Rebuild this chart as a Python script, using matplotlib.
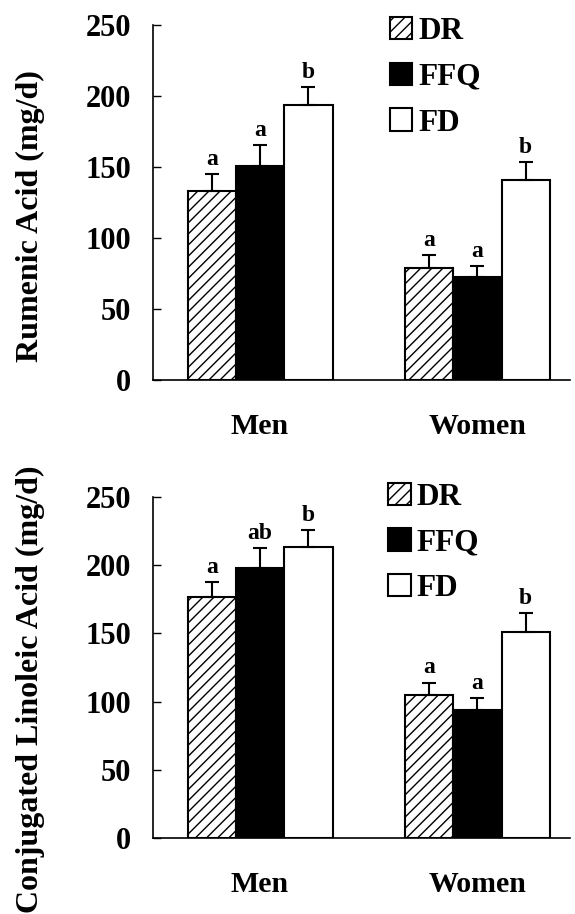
import matplotlib
matplotlib.use("Agg")
import matplotlib.pyplot as plt
import numpy as np

plt.rcParams['font.family'] = ['Liberation Serif', 'DejaVu Serif']
plt.rcParams['font.weight'] = 'bold'
plt.rcParams['hatch.linewidth'] = 1.0

groups = ["Men", "Women"]
methods = ["DR", "FFQ", "FD"]

# Rumenic acid (mg/d): means and upper error (SE)
rum_mean = {"DR": [133, 79], "FFQ": [151, 72.5], "FD": [194, 141]}
rum_err = {"DR": [12, 9], "FFQ": [14.5, 8], "FD": [12, 12.5]}
rum_letters = {"DR": ["a", "a"], "FFQ": ["a", "a"], "FD": ["b", "b"]}

# Conjugated linoleic acid (mg/d)
cla_mean = {"DR": [177, 105], "FFQ": [198, 94], "FD": [213, 151]}
cla_err = {"DR": [10.5, 9], "FFQ": [14.5, 8.5], "FD": [13, 14]}
cla_letters = {"DR": ["a", "a"], "FFQ": ["ab", "a"], "FD": ["b", "b"]}

yticks = [0, 50, 100, 150, 200, 250]

styles = {
    "DR": dict(facecolor="white", hatch="///"),
    "FFQ": dict(facecolor="black"),
    "FD": dict(facecolor="white"),
}

fig = plt.figure(figsize=(5.75, 9.14), dpi=100)
W, H = 575, 914

def axes_px(left, right, top, bottom):
    return fig.add_axes([left / W, 1 - bottom / H, (right - left) / W, (bottom - top) / H])

ax1 = axes_px(153, 570, 25, 380)
ax2 = axes_px(153, 570, 497, 838)

centers = np.array([0.0, 4.5])
offsets = {"DR": -1.0, "FFQ": 0.0, "FD": 1.0}

def draw(ax, means, errs, letters, ylabel, label_y, leg_anchor):
    handles = []
    for m in methods:
        x = centers + offsets[m]
        b = ax.bar(x, means[m], width=1.0, edgecolor="black", linewidth=1.5,
                   label=m, zorder=2, **styles[m])
        handles.append(b)
        ax.errorbar(x, means[m], yerr=[np.zeros(len(x)), errs[m]], fmt="none",
                    ecolor="black", elinewidth=1.5, capsize=5, capthick=1.5, zorder=3)
        for xi, mi, ei, lt in zip(x, means[m], errs[m], letters[m]):
            ax.annotate(lt, (xi, mi + ei), xytext=(0, 3), textcoords="offset points",
                        ha="center", va="bottom", fontsize=17, fontweight="bold")
    ax.set_xlim(-2.215, 6.415)
    ax.set_ylim(0, 250)
    ax.set_yticks(yticks)
    ax.set_yticklabels([str(t) for t in yticks], fontsize=22, fontweight="bold")
    ax.set_xticks(centers)
    ax.set_xticklabels(groups, fontsize=21.5, fontweight="bold")
    ax.tick_params(axis="y", direction="in", length=6, width=1, pad=16)
    ax.tick_params(axis="x", length=0, pad=24)
    for s in ["top", "right"]:
        ax.spines[s].set_visible(False)
    for s in ["left", "bottom"]:
        ax.spines[s].set_linewidth(1.2)
    ax.set_ylabel(ylabel, fontsize=23, fontweight="bold", va="center")
    ax.yaxis.set_label_coords(-0.295, label_y)
    leg = ax.legend(handles=handles, loc="upper left", bbox_to_anchor=leg_anchor,
                    frameon=False, fontsize=22.5, handlelength=0.72, handleheight=0.72,
                    handletextpad=0.2, labelspacing=0.53, borderpad=0, borderaxespad=0)
    for t in leg.get_texts():
        t.set_fontweight("bold")

draw(ax1, rum_mean, rum_err, rum_letters, "Rumenic Acid (mg/d)", 0.462, (0.568, 1.022))
draw(ax2, cla_mean, cla_err, cla_letters, "Conjugated Linoleic Acid (mg/d)", 0.437, (0.564, 1.042))

fig.savefig("out.png", dpi=100)
